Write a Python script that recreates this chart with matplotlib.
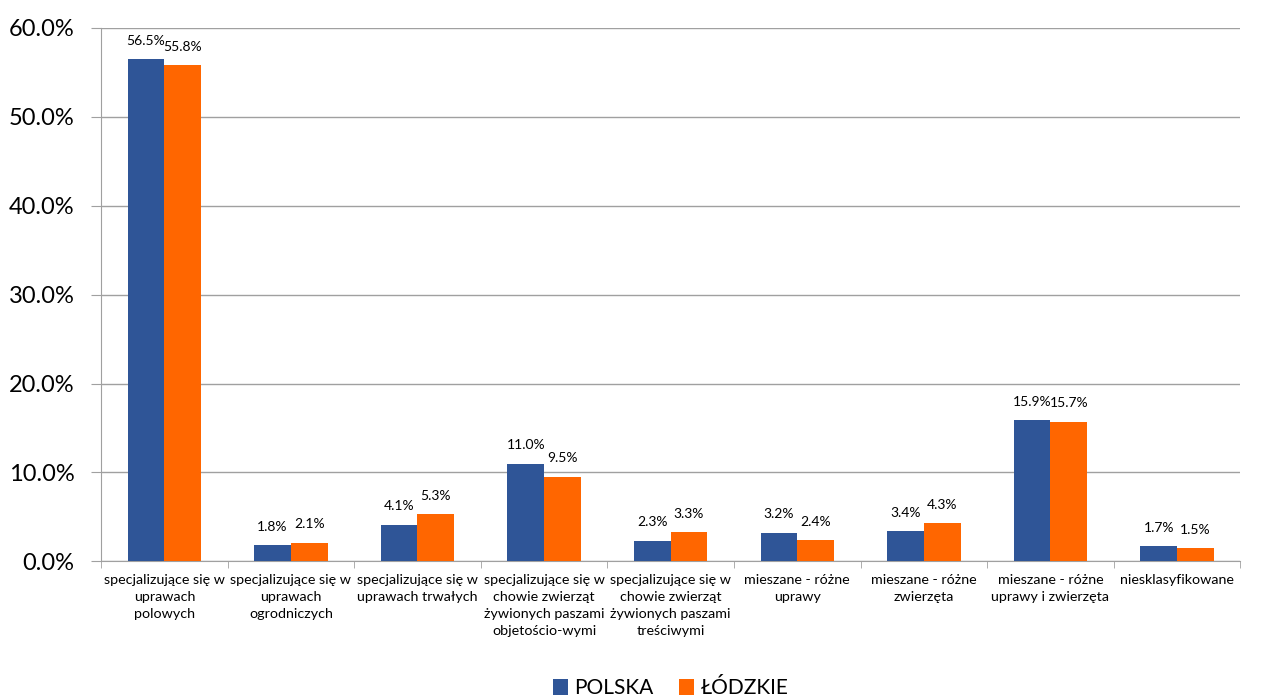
import matplotlib
matplotlib.use("Agg")
import matplotlib.pyplot as plt
import numpy as np

categories = [
    "specjalizujące się w\nuprawach\npolowych",
    "specjalizujące się w\nuprawach\nogrodniczych",
    "specjalizujące się w\nuprawach trwałych",
    "specjalizujące się w\nchowie zwierząt\nżywionych paszami\nobjetościo-wymi",
    "specjalizujące się w\nchowie zwierząt\nżywionych paszami\ntreściwymi",
    "mieszane - różne\nuprawy",
    "mieszane - różne\nzwierzęta",
    "mieszane - różne\nuprawy i zwierzęta",
    "niesklasyfikowane",
]
polska = [56.5, 1.8, 4.1, 11.0, 2.3, 3.2, 3.4, 15.9, 1.7]
lodzkie = [55.8, 2.1, 5.3, 9.5, 3.3, 2.4, 4.3, 15.7, 1.5]
series_names = ["POLSKA", "ŁÓDZKIE"]
yticks = [0, 10, 20, 30, 40, 50, 60]

plt.rcParams['font.family'] = ['Lato', 'DejaVu Sans']

fig = plt.figure(figsize=(12.63, 6.99), dpi=100)
ax = fig.add_axes([0.080, 0.197, 0.902, 0.763])

x = np.arange(len(categories))
w = 0.29
c1, c2 = "#2F5597", "#FF6600"
b1 = ax.bar(x - w/2, polska, w, color=c1, label=series_names[0], zorder=3)
b2 = ax.bar(x + w/2, lodzkie, w, color=c2, label=series_names[1], zorder=3)

for rects, vals in ((b1, polska), (b2, lodzkie)):
    for r, v in zip(rects, vals):
        ax.text(r.get_x() + r.get_width()/2, v + 1.4, f"{v:.1f}%",
                ha="center", va="bottom", fontsize=10)

ax.set_xlim(-0.5, len(categories) - 0.5)
ax.set_ylim(0, 60)
ax.set_yticks(yticks)
ax.set_yticklabels([f"{t:.1f}%" for t in yticks], fontsize=17)
ax.yaxis.grid(True, color="#A0A0A0", linewidth=1, zorder=0)
ax.set_axisbelow(True)

ax.set_xticks(x)
ax.set_xticklabels(categories, fontsize=10.3, linespacing=1.5, va="top")
ax.tick_params(axis="x", length=0, pad=9)
ax.set_xticks(np.arange(len(categories) + 1) - 0.5, minor=True)
ax.tick_params(axis="x", which="minor", length=5, color="#A0A0A0", direction="out")
ax.tick_params(axis="y", length=7, color="#A0A0A0", direction="out", pad=12)

for s in ("top", "right"):
    ax.spines[s].set_visible(False)
for s in ("left", "bottom"):
    ax.spines[s].set_color("#A0A0A0")

ax.legend(loc="center", bbox_to_anchor=(0.5, -0.238), ncol=2, frameon=False,
          fontsize=15, handlelength=0.75, handleheight=0.75, handletextpad=0.3,
          columnspacing=1.2, borderpad=0.1)

fig.savefig("out.png", dpi=100)
